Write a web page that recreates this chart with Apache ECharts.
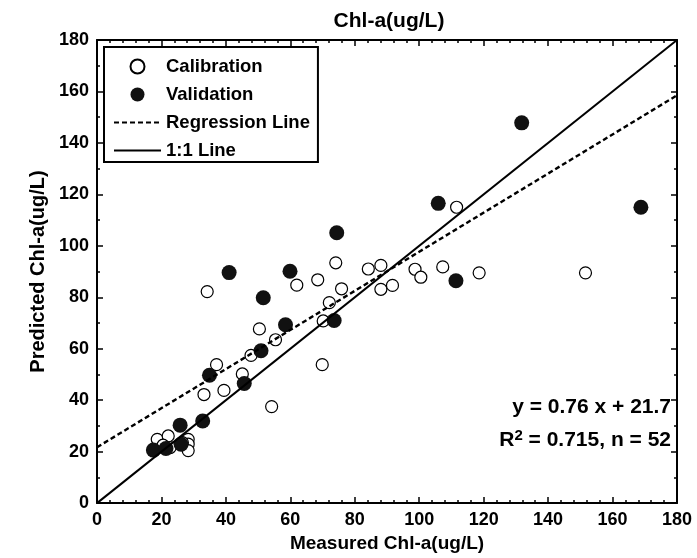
<!DOCTYPE html>
<html>
<head>
<meta charset="utf-8">
<script src="https://cdn.jsdelivr.net/npm/echarts@6/dist/echarts.min.js"></script>
<style>html,body{margin:0;padding:0;background:#fff;}#c{width:697px;height:558px;}</style>
</head>
<body>
<div id="c"></div>
<script>
// ---- data ----
var calX = [34.2, 62.0, 68.5, 75.9, 72.1, 74.1, 84.2, 88.1, 88.1, 91.7, 98.7, 100.5, 107.3, 111.6, 118.6, 151.6, 50.4, 55.4, 70.2, 47.8, 37.1, 69.9, 45.1, 33.2, 39.4, 54.2, 18.7, 22.1, 28.3, 28.3, 28.3, 22.7, 20.5, 26.5];
var calY = [82.2, 84.7, 86.8, 83.3, 77.9, 93.4, 91.0, 92.4, 83.1, 84.6, 90.9, 87.8, 91.8, 115.0, 89.5, 89.5, 67.7, 63.5, 70.8, 57.4, 53.8, 53.8, 50.2, 42.2, 43.8, 37.5, 24.8, 26.1, 24.8, 22.9, 20.4, 21.6, 22.5, 23.5];
var valX = [17.5, 21.4, 26.1, 25.8, 32.8, 34.9, 45.7, 50.9, 58.5, 73.6, 51.6, 41.0, 59.9, 74.4, 105.9, 111.4, 131.8, 168.8];
var valY = [20.6, 21.2, 22.9, 30.3, 31.9, 49.7, 46.5, 59.2, 69.3, 71.0, 79.8, 89.6, 90.1, 105.1, 116.5, 86.4, 147.8, 115.0];
var regX = [0, 180];
var regY = [21.7, 158.5];
var oneX = [0, 180];
var oneY = [0, 180];
var seriesNames = ['Calibration', 'Validation', 'Regression Line', '1:1 Line'];
var titleText = 'Chl-a(ug/L)';
var xName = 'Measured Chl-a(ug/L)';
var yName = 'Predicted Chl-a(ug/L)';
var eqText = 'y = 0.76 x + 21.7';
var r2Text = '{b|R}{s|2}{b| = 0.715, n = 52}';

function pairs(xs, ys) { return xs.map(function (x, i) { return [x, ys[i]]; }); }

var FONT = 'Arial, "Liberation Sans", sans-serif';
var chart = echarts.init(document.getElementById('c'), null, {renderer: 'canvas'});

function axisCommon(showLabel, minorSplit) {
  return {
    type: 'value', min: 0, max: 180, interval: 20,
    axisLine: {show: true, onZero: false, lineStyle: {color: '#000', width: 2}},
    axisTick: {show: true, inside: true, length: 6, lineStyle: {color: '#000', width: 1.5}},
    minorTick: {show: true, splitNumber: minorSplit, length: 3, lineStyle: {color: '#000', width: 1.5}},
    splitLine: {show: false},
    axisLabel: {show: showLabel, color: '#000', fontFamily: FONT, fontWeight: 'bold', fontSize: 18, margin: 8, showMinLabel: true, showMaxLabel: true}
  };
}

var xb = axisCommon(true, 5);
xb.position = 'bottom';
xb.name = xName; xb.nameLocation = 'middle'; xb.nameGap = 28;
xb.nameTextStyle = {color: '#000', fontFamily: FONT, fontWeight: 'bold', fontSize: 19};
var xt = axisCommon(false, 5); xt.position = 'top';
var yl = axisCommon(true, 2);
yl.position = 'left';
yl.name = yName; yl.nameLocation = 'middle'; yl.nameGap = 48;
yl.nameTextStyle = {color: '#000', fontFamily: FONT, fontWeight: 'bold', fontSize: 20};
var yr = axisCommon(false, 2); yr.position = 'right';

var option = {
  animation: false,
  backgroundColor: '#fff',
  title: {text: titleText, left: 384, textAlign: 'center', top: 6,
    textStyle: {color: '#000', fontFamily: FONT, fontWeight: 'bold', fontSize: 21}},
  grid: {left: 97, right: 20, top: 40, bottom: 52, containLabel: false},
  xAxis: [xb, xt],
  yAxis: [yl, yr],
  legend: {
    orient: 'vertical', left: 104, top: 47,
    data: [
      {name: seriesNames[0]},
      {name: seriesNames[1]},
      {name: seriesNames[2], itemStyle: {opacity: 0}},
      {name: seriesNames[3], itemStyle: {opacity: 0}}
    ],
    itemWidth: 47, itemHeight: 14, itemGap: 9,
    padding: [10, 8, 2, 9],
    borderColor: '#000', borderWidth: 2, backgroundColor: '#fff',
    textStyle: {color: '#000', fontFamily: FONT, fontWeight: 'bold', fontSize: 18.5},
    selectedMode: false
  },
  series: [
    {name: seriesNames[0], type: 'scatter', xAxisIndex: 0, yAxisIndex: 0, data: pairs(calX, calY),
      symbol: 'circle', symbolSize: 12, z: 2,
      itemStyle: {color: '#fff', borderColor: '#000', borderWidth: 1.2, opacity: 1}},
    {name: seriesNames[1], type: 'scatter', xAxisIndex: 0, yAxisIndex: 0, data: pairs(valX, valY),
      symbol: 'circle', symbolSize: 15, z: 3,
      itemStyle: {color: '#111', borderColor: '#111', borderWidth: 0, opacity: 1}},
    {name: seriesNames[2], type: 'line', xAxisIndex: 0, yAxisIndex: 0, data: pairs(regX, regY),
      symbol: 'none', z: 4, color: '#000', lineStyle: {color: '#000', width: 2.4, type: [5, 3]}},
    {name: seriesNames[3], type: 'line', xAxisIndex: 0, yAxisIndex: 0, data: pairs(oneX, oneY),
      symbol: 'none', z: 4, color: '#000', lineStyle: {color: '#000', width: 2, type: 'solid'}}
  ],
  graphic: [
    {type: 'text', right: 26, top: 397, z: 10,
      style: {text: eqText, fill: '#000', font: 'bold 21px ' + FONT, textAlign: 'right'}},
    {type: 'text', right: 26, top: 428, z: 10,
      style: {text: r2Text, fill: '#000', font: 'bold 21px ' + FONT,
        rich: {b: {fontSize: 21, fontWeight: 'bold', fontFamily: FONT, fill: '#000', verticalAlign: 'bottom'},
               s: {fontSize: 15, fontWeight: 'bold', fontFamily: FONT, fill: '#000', verticalAlign: 'top', padding: [0, 0, 8, 0]}}}}
  ]
};
chart.setOption(option);
</script>
</body>
</html>
